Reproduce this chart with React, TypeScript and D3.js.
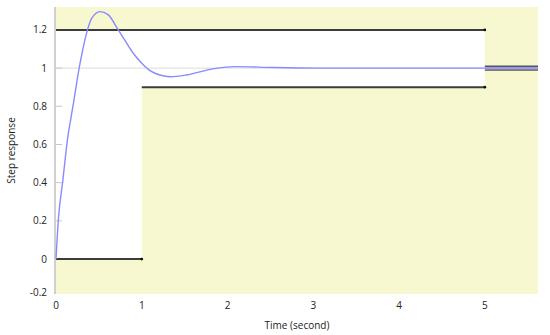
import React from "react";
import * as d3 from "d3";

// step response
const stepTime = [0, 0.027, 0.078, 0.144, 0.171, 0.2, 0.27, 0.3, 0.367, 0.416, 0.513, 0.61, 0.726, 0.8, 0.9, 1.0, 1.096, 1.21, 1.33, 1.52, 1.83, 2.09, 2.53, 3.08, 4, 5];
const stepValue = [0, 0.204, 0.405, 0.66, 0.73, 0.807, 1.0, 1.07, 1.2, 1.26, 1.296, 1.279, 1.2, 1.148, 1.078, 1.026, 0.987, 0.964, 0.955, 0.964, 0.996, 1.008, 1.003, 1.0, 1.0, 1.0];

// constraint bounds: [tStart, tEnd, value]
const upperBounds = [[0, 5, 1.2]];
const lowerBounds = [[0, 1, 0], [1, 5, 0.9]];
// settling band after the last bound
const settleBand = [0.99, 1.01];
const finalValue = 1;

const yTicks = [-0.2, 0, 0.2, 0.4, 0.6, 0.8, 1, 1.2];
const xTicks = [0, 1, 2, 3, 4, 5];

const W = 550, H = 335;
const left = 56, right = 538, top = 7, bottom = 294;
const yellow = "#f8f8d0";
const dark = "#3c3c3c";
const font = "'Open Sans', sans-serif";

export default function App() {
  const x = d3.scaleLinear().domain([0, 5.62]).range([left, right]);
  const y = d3.scaleLinear().domain([-0.183, 1.32]).range([bottom, top]);
  const xMax = x.domain()[1];

  const line = d3.line<number>()
    .x((_, i) => x(stepTime[i]))
    .y(d => y(d))
    .curve(d3.curveMonotoneX);

  // white (allowed) regions between bounds
  const allowed = lowerBounds.map(([a, b, v]) => {
    const up = upperBounds.find(u => u[0] <= a && u[1] >= b)!;
    return { a, b, lo: v, hi: up[2] };
  });

  const tEnd = upperBounds[upperBounds.length - 1][1];

  return (
    <svg width={W} height={H} style={{ position: "absolute", left: 0, top: 0 }} fontFamily={font}>
      <rect x={left - 1} y={top} width={right - left + 1} height={bottom - top} fill={yellow} />
      {allowed.map((r, i) => (
        <rect key={i} x={x(r.a)} y={y(r.hi)} width={x(r.b) - x(r.a)} height={y(r.lo) - y(r.hi)} fill="#fff" />
      ))}
      {/* reference line at 1 */}
      <line x1={left} x2={x(tEnd)} y1={y(finalValue)} y2={y(finalValue)} stroke="#dcdcdc" strokeWidth={1} />
      {/* left axis */}
      <line x1={left - 1} x2={left - 1} y1={top} y2={bottom} stroke="#d0d0d0" strokeWidth={2} />
      {yTicks.map(t => {
        const yy = Math.min(y(t), bottom - 2);
        return (
          <g key={t}>
            {y(t) <= bottom && <line x1={left} x2={left + 6} y1={y(t)} y2={y(t)} stroke="#c8c8c8" strokeWidth={1} />}
            <text x={47} y={yy} dy="0.35em" textAnchor="end" fontSize={10} fill="#222">{t}</text>
          </g>
        );
      })}
      {xTicks.map(t => (
        <text key={t} x={x(t)} y={309} textAnchor="middle" fontSize={10} fill="#222">{t}</text>
      ))}
      <text x={(left + right) / 2} y={329} textAnchor="middle" fontSize={10} fill="#222">Time (second)</text>
      <text transform={`translate(15,${(top + bottom) / 2}) rotate(-90)`} textAnchor="middle" fontSize={10} fill="#222">Step response</text>

      {/* bound lines */}
      {upperBounds.concat(lowerBounds).map(([a, b, v], i) => (
        <g key={i}>
          <line x1={x(a)} x2={x(b)} y1={y(v)} y2={y(v)} stroke={dark} strokeWidth={2} />
          <circle cx={x(b)} cy={y(v)} r={1.4} fill="#111" />
        </g>
      ))}
      {/* settling band beyond last bound */}
      {settleBand.map(v => (
        <line key={v} x1={x(tEnd)} x2={x(xMax)} y1={y(v)} y2={y(v)} stroke="#555" strokeWidth={1.6} />
      ))}
      <line x1={x(tEnd)} x2={x(xMax)} y1={y(finalValue)} y2={y(finalValue)} stroke="#9a9af5" strokeWidth={2.2} />

      <path d={line(stepValue) || ""} fill="none" stroke="#8a8aff" strokeWidth={1.4} />
    </svg>
  );
}
